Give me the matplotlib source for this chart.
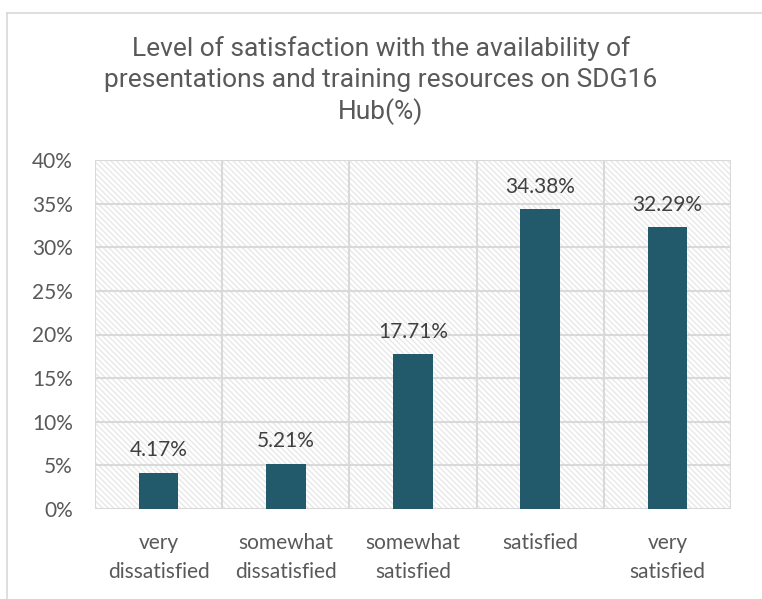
import matplotlib
matplotlib.use("Agg")
import matplotlib.pyplot as plt
from matplotlib.patches import Rectangle
from matplotlib.lines import Line2D

categories = ["very\ndissatisfied", "somewhat\ndissatisfied", "somewhat\nsatisfied", "satisfied", "very\nsatisfied"]
values = [4.17, 5.21, 17.71, 34.38, 32.29]
yticks = [0, 5, 10, 15, 20, 25, 30, 35, 40]
title = "Level of satisfaction with the availability of\npresentations and training resources on SDG16\nHub(%)"

W, H = 762, 599
fig = plt.figure(figsize=(W / 100, H / 100), dpi=100)
fig.patch.set_facecolor("white")

# outer chart frame (top and left visible)
fig.add_artist(Line2D([7 / W, 1.0], [1 - 13 / H, 1 - 13 / H], color="#d9d9d9", lw=1.2))
fig.add_artist(Line2D([7 / W, 7 / W], [0.0, 1 - 13 / H], color="#d9d9d9", lw=1.2))

left, right, top, bottom = 95, 731, 160, 509
ax = fig.add_axes([left / W, 1 - bottom / H, (right - left) / W, (bottom - top) / H])
n = len(categories)
ax.set_xlim(-0.5, n - 0.5)
ax.set_ylim(0, 40)

plt.rcParams["hatch.color"] = "#e8e8e8"
plt.rcParams["hatch.linewidth"] = 1.0
ax.add_patch(Rectangle((0, 0), 1, 1, transform=ax.transAxes, facecolor="white",
                       edgecolor="#e8e8e8", hatch="\\\\\\\\\\\\", lw=0, zorder=0))

for y in yticks:
    ax.axhline(y, color="#d9d9d9", lw=1.5, zorder=1)
for i in range(n + 1):
    ax.axvline(i - 0.5, color="#d9d9d9", lw=1.5, zorder=1)

x = list(range(n))
bars = ax.bar(x, values, width=0.31, color="#225a6b", zorder=3)
for xi, v in zip(x, values):
    ax.text(xi, v + 1.4, f"{v:.2f}%", ha="center", va="bottom", fontsize=15,
            family="Lato", color="#404040", zorder=4)

for s in ax.spines.values():
    s.set_visible(False)
ax.set_yticks(yticks)
ax.set_yticklabels([f"{y}%" for y in yticks], fontsize=15, family="Lato", color="#595959")
ax.set_xticks(x)
ax.set_xticklabels(categories, fontsize=15, family="Lato", color="#595959", linespacing=1.6)
ax.tick_params(axis="both", length=0)
ax.tick_params(axis="x", pad=17)
ax.tick_params(axis="y", pad=16)

fig.text(0.5, 1 - 81 / H, title, ha="center", va="center", fontsize=19, family="Roboto",
         color="#595959", linespacing=1.33)

fig.savefig("out.png", dpi=100)
